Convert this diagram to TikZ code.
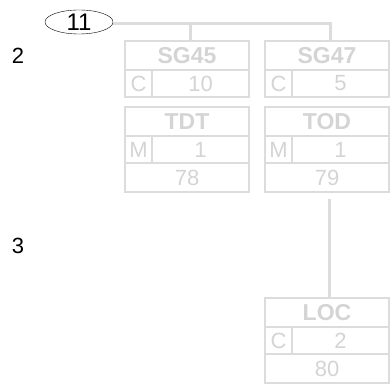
\documentclass[tikz,border=0pt]{standalone}
\usepackage{fontspec}
\setmainfont{Liberation Sans}
\usetikzlibrary{shapes.geometric}
\definecolor{faded}{RGB}{220,220,220}
\definecolor{fadedtext}{RGB}{212,212,212}
\begin{document}
\begin{tikzpicture}[x=1pt,y=-1pt]
  \tikzstyle{head} = [rectangle, draw=faded, line width=2pt, outer sep=0pt, inner sep=0pt, minimum width=124pt, minimum height=29pt, anchor=north west, text=fadedtext, font=\fontsize{23}{23}\selectfont\bfseries]
  \tikzstyle{tag} = [rectangle, draw=faded, line width=2pt, outer sep=0pt, inner sep=0pt, minimum width=27pt, minimum height=27pt, anchor=north west, text=fadedtext, font=\fontsize{22}{22}\selectfont]
  \tikzstyle{val} = [tag, minimum width=97pt]
  \tikzstyle{row} = [tag, minimum width=124pt, minimum height=29pt]
  \tikzstyle{link} = [draw=faded, line width=3pt]
  \tikzstyle{level} = [font=\fontsize{22}{22}\selectfont]

  \useasboundingbox (0,0) rectangle (390,387);

  \node (root) [ellipse, draw, thin, minimum width=68pt, minimum height=24pt, inner sep=0pt, font=\fontsize{24}{24}\selectfont] at (79,22) {11};
  \node (lvl2) [level] at (18,56) {2};
  \node (lvl3) [level] at (18,246) {3};

  % left column
  \node (sg45) [head] at (125,41) {SG45};
  \node (sg45tag) [tag] at (sg45.south west) {C};
  \node (sg45val) [val] at (sg45tag.north east) {10};
  \node (tdt) [head] at (125,107) {TDT};
  \node (tdttag) [tag] at (tdt.south west) {M};
  \node (tdtval) [val] at (tdttag.north east) {1};
  \node (tdtnum) [row] at (tdttag.south west) {78};

  % right column
  \node (sg47) [head] at (265,41) {SG47};
  \node (sg47tag) [tag] at (sg47.south west) {C};
  \node (sg47val) [val] at (sg47tag.north east) {5};
  \node (tod) [head] at (265,107) {TOD};
  \node (todtag) [tag] at (tod.south west) {M};
  \node (todval) [val] at (todtag.north east) {1};
  \node (todnum) [row] at (todtag.south west) {79};

  \node (loc) [head] at (265,298) {LOC};
  \node (loctag) [tag] at (loc.south west) {C};
  \node (locval) [val] at (loctag.north east) {2};
  \node (locnum) [row] at (loctag.south west) {80};

  \draw [link] ([yshift=-2pt]root.east) -| ([xshift=3pt]sg45.north);
  \draw [link] ([yshift=-2pt]root.east) -| ([xshift=3pt]sg47.north);
  \draw [link, shorten <=7pt] ([xshift=2pt]todnum.south) -- ([xshift=2pt]loc.north);
\end{tikzpicture}
\end{document}
